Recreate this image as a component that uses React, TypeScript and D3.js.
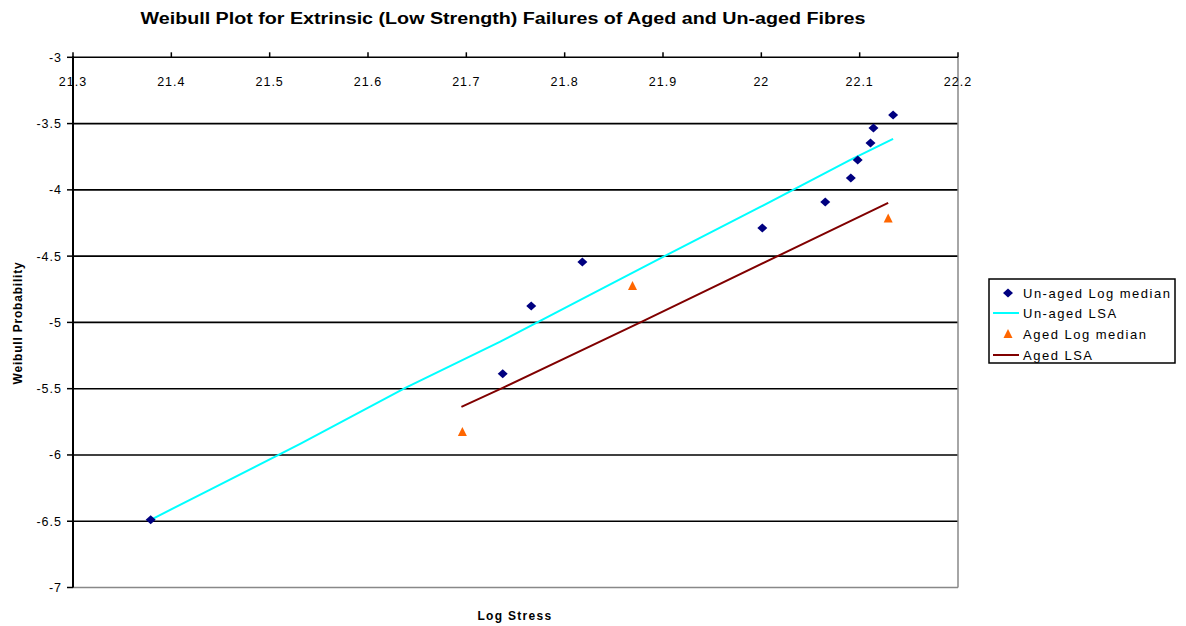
import React from "react";
import * as d3 from "d3";

const unagedX = [21.379, 21.737, 21.766, 21.818, 22.001, 22.065, 22.091, 22.098, 22.111, 22.114, 22.134];
const unagedY = [-6.489, -5.388, -4.876, -4.544, -4.287, -4.092, -3.91, -3.775, -3.647, -3.534, -3.436];

const unagedLsaX = [21.379, 21.439, 21.531, 21.638, 21.734, 21.816, 21.904, 21.999, 22.09, 22.134];
const unagedLsaY = [-6.489, -6.263, -5.916, -5.494, -5.147, -4.83, -4.491, -4.129, -3.775, -3.616];

const agedX = [21.696, 21.869, 22.129];
const agedY = [-5.826, -4.725, -4.217];

const agedLsaX = [21.695, 21.737, 21.877, 22.016, 22.129];
const agedLsaY = [-5.637, -5.494, -5.0, -4.502, -4.099];

const xTicks = [21.3, 21.4, 21.5, 21.6, 21.7, 21.8, 21.9, 22, 22.1, 22.2];
const yTicks = [-3, -3.5, -4, -4.5, -5, -5.5, -6, -6.5, -7];

const legendLabels = ["Un-aged Log median", "Un-aged LSA", "Aged Log median", "Aged LSA"];

const FONT = "'Liberation Sans', Arial, sans-serif";

export default function App() {
  const W = 1186, H = 626;
  const x = d3.scaleLinear().domain([21.3, 22.2]).range([73, 958]);
  const y = d3.scaleLinear().domain([-7, -3]).range([587.5, 57.3]);

  const line = d3.line<[number, number]>().x((d) => x(d[0])).y((d) => y(d[1]));
  const ulsa = line(unagedLsaX.map((v, i) => [v, unagedLsaY[i]] as [number, number])) || "";
  const alsa = line(agedLsaX.map((v, i) => [v, agedLsaY[i]] as [number, number])) || "";

  const diamond = (cx: number, cy: number) =>
    `M${cx},${cy - 4.5}L${cx + 5},${cy}L${cx},${cy + 4.5}L${cx - 5},${cy}Z`;
  const tri = (cx: number, cy: number) =>
    `M${cx},${cy - 5}L${cx + 4.5},${cy + 4}L${cx - 4.5},${cy + 4}Z`;

  const fmtX = (v: number) => (v === 22 ? "22" : v.toFixed(1));
  const fmtY = (v: number) => String(v);

  const x0 = x(21.3), x1 = x(22.2);
  const legX = 989, legY = 279;
  const rows = [293, 313, 334, 355];

  return (
    <svg width={W} height={H} style={{ position: "absolute", left: 0, top: 0, background: "#fff" }} fontFamily={FONT}>
      <rect x={0} y={0} width={W} height={H} fill="#fff" />
      <text x={503} y={24} textAnchor="middle" fontSize={16} fontWeight="bold" textLength={725} lengthAdjust="spacingAndGlyphs">
        Weibull Plot for Extrinsic (Low Strength) Failures of Aged and Un-aged Fibres
      </text>

      {yTicks.filter((v) => v !== -3 && v !== -7).map((v) => (
        <line key={"g" + v} x1={x0} x2={x1} y1={y(v)} y2={y(v)} stroke="#000" strokeWidth={1.6} />
      ))}
      <line x1={x0} x2={x1} y1={y(-7)} y2={y(-7)} stroke="#888" strokeWidth={1.5} />
      <line x1={x1} x2={x1} y1={y(-3)} y2={y(-7)} stroke="#888" strokeWidth={1.5} />

      <line x1={x0} x2={x1} y1={y(-3)} y2={y(-3)} stroke="#000" strokeWidth={1.6} />
      {xTicks.map((v) => (
        <g key={"xt" + v}>
          <line x1={x(v)} x2={x(v)} y1={y(-3)} y2={y(-3) - 5} stroke="#000" strokeWidth={1.5} />
          <text x={x(v)} y={86} textAnchor="middle" fontSize={12.5} letterSpacing={1}>{fmtX(v)}</text>
        </g>
      ))}
      <line x1={x0} x2={x0} y1={y(-3) - 1} y2={y(-7)} stroke="#000" strokeWidth={2} />
      {yTicks.map((v) => (
        <g key={"yt" + v}>
          <line x1={x0 - 6} x2={x0} y1={y(v)} y2={y(v)} stroke="#000" strokeWidth={1.5} />
          <text x={62} y={y(v) + 4.5} textAnchor="end" fontSize={12.5} letterSpacing={1}>{fmtY(v)}</text>
        </g>
      ))}

      <path d={ulsa} fill="none" stroke="#00FFFF" strokeWidth={2} />
      <path d={alsa} fill="none" stroke="#800000" strokeWidth={2} />
      {unagedX.map((v, i) => (
        <path key={"u" + i} d={diamond(x(v), y(unagedY[i]))} fill="#000080" />
      ))}
      {agedX.map((v, i) => (
        <path key={"a" + i} d={tri(x(v), y(agedY[i]))} fill="#FF6600" />
      ))}

      <text x={515} y={620} textAnchor="middle" fontSize={12} fontWeight="bold" letterSpacing={1.3}>Log Stress</text>
      <text transform={`translate(22,323) rotate(-90)`} textAnchor="middle" fontSize={12} fontWeight="bold" letterSpacing={0.8}>
        Weibull Probability
      </text>

      <rect x={legX} y={legY} width={186} height={84} fill="#fff" stroke="#000" strokeWidth={1.5} />
      <path d={diamond(1008, rows[0])} fill="#000080" />
      <line x1={993} x2={1019} y1={rows[1]} y2={rows[1]} stroke="#00FFFF" strokeWidth={2} />
      <path d={tri(1008, rows[2])} fill="#FF6600" />
      <line x1={993} x2={1019} y1={rows[3]} y2={rows[3]} stroke="#800000" strokeWidth={2} />
      {legendLabels.map((t, i) => (
        <text key={t} x={1023} y={rows[i] + 5} fontSize={13} letterSpacing={1.5}>{t}</text>
      ))}
    </svg>
  );
}
